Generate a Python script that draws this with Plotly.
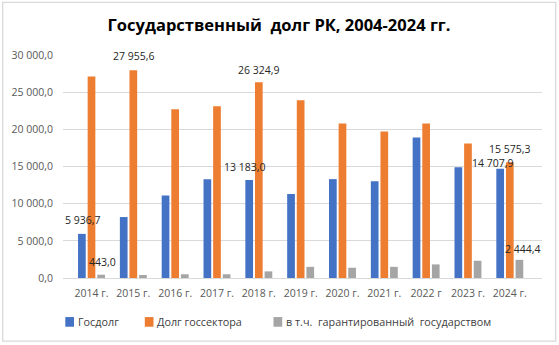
import plotly.graph_objects as go

# Data (млрд тенге)
years = ["2014 г.", "2015 г.", "2016 г.", "2017 г.", "2018 г.", "2019 г.",
         "2020 г.", "2021 г.", "2022 г", "2023 г.", "2024 г."]
gos_dolg = [5936.7, 8200, 11100, 13300, 13183.0, 11300, 13300, 13000, 18900, 14900, 14707.9]
dolg_gossektora = [27100, 27955.6, 22700, 23100, 26324.9, 23900, 20800, 19700, 20800, 18100, 15575.3]
garantirovannyi = [443.0, 400, 500, 500, 890, 1500, 1380, 1500, 1830, 2320, 2444.4]

series_names = ["Госдолг", "Долг госсектора", "в т.ч.  гарантированный  государством"]
colors = ["#4472C4", "#ED7D31", "#A5A5A5"]

y_tickvals = [0, 5000, 10000, 15000, 20000, 25000, 30000]
y_ticktext = ["0,0", "5 000,0", "10 000,0", "15 000,0", "20 000,0", "25 000,0", "30 000,0"]

FONT = "Open Sans"
W, H = 559, 345
ML, MR, MT, MB = 63, 17, 54.5, 66.7
PW, PH = W - ML - MR, H - MT - MB


def px_x(p):
    return (p - ML) / PW


def px_y(p):
    return (H - MB - p) / PH


def fmt(v):
    return f"{v:,.1f}".replace(",", " ").replace(".", ",")


fig = go.Figure()
all_series = [gos_dolg, dolg_gossektora, garantirovannyi]
for name, vals, col in zip(series_names, all_series, colors):
    fig.add_trace(go.Bar(x=years, y=vals, name=name, marker_color=col,
                         marker_line_width=0, showlegend=False))

# Selected data labels: (series index, year index, extra x shift, y shift)
label_spec = [
    (0, 0, 1, 14), (0, 4, -4.5, 13), (0, 10, -7.3, 5.5),
    (1, 1, 0, 14), (1, 4, -0.5, 12.5), (1, 10, 0, 13),
    (2, 0, 1.2, 13), (2, 10, 2.7, 11),
]
bar_offset = [-10, 0, 10]
annotations = []
for s, i, dx, dy in label_spec:
    v = all_series[s][i]
    annotations.append(dict(
        x=years[i], y=v, xref="x", yref="y", text=fmt(v), showarrow=False,
        xshift=bar_offset[s] + dx, yshift=dy, yanchor="middle", xanchor="center",
        font=dict(family=FONT, size=10.5, color="#262626")))

# Legend drawn as swatches with labels
legend_items = [(65.3, 75.5), (144.8, 154.5), (273.5, 284)]
shapes = []
for (sx, tx), name, col in zip(legend_items, series_names, colors):
    shapes.append(dict(type="rect", xref="paper", yref="paper",
                       x0=px_x(sx), x1=px_x(sx + 8.7), y0=px_y(327.2), y1=px_y(317.5),
                       fillcolor=col, line_width=0))
    annotations.append(dict(x=px_x(tx), y=px_y(322.3), xref="paper", yref="paper",
                            text=name, showarrow=False, xanchor="left", yanchor="middle",
                            font=dict(family=FONT, size=10.8, color="#404040")))

# Chart border
shapes.append(dict(type="rect", xref="paper", yref="paper",
                   x0=px_x(2.7), x1=px_x(555.7), y0=px_y(341.7), y1=px_y(1.7),
                   line=dict(color="#D9D9D9", width=1.3), fillcolor="rgba(0,0,0,0)"))

fig.update_layout(
    width=W, height=H,
    margin=dict(l=ML, r=MR, t=MT, b=MB, pad=0),
    paper_bgcolor="white", plot_bgcolor="white",
    barmode="group", bargap=0.31, bargroupgap=0.2,
    title=dict(text="<b>Государственный  долг РК, 2004-2024 гг.</b>",
               x=279 / W, xanchor="center", xref="container",
               y=1 - 25 / H, yanchor="middle", yref="container",
               font=dict(family=FONT, size=16.5, color="#000000")),
    xaxis=dict(showgrid=False, showline=False, ticks="", zeroline=False,
               tickfont=dict(family=FONT, size=10.5, color="#595959"),
               ticklabelstandoff=7),
    yaxis=dict(range=[0, 30000], tickvals=y_tickvals, ticktext=y_ticktext,
               showgrid=True, gridcolor="#D9D9D9", gridwidth=1,
               zeroline=True, zerolinecolor="#D9D9D9", zerolinewidth=1,
               showline=False, ticks="",
               tickfont=dict(family=FONT, size=10.5, color="#595959"),
               ticklabelstandoff=9),
    shapes=shapes, annotations=annotations, showlegend=False,
)

fig.write_html("out.html")
